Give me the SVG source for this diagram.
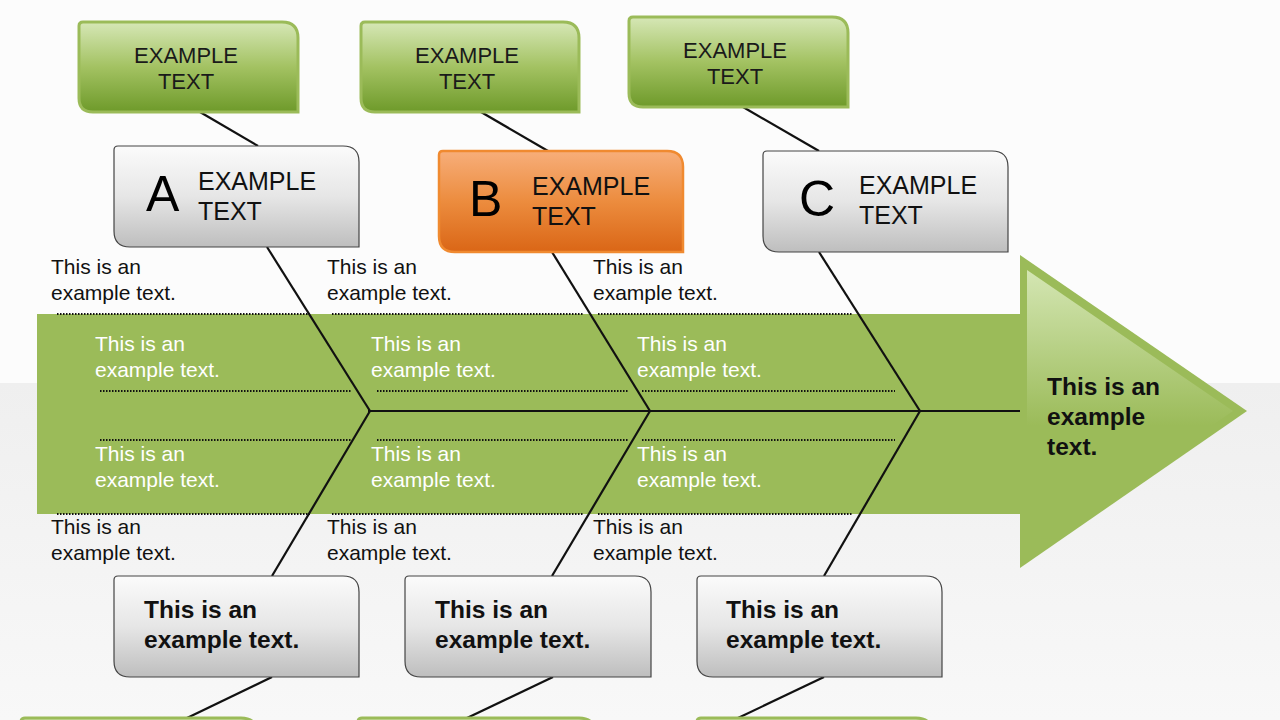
<svg xmlns="http://www.w3.org/2000/svg" width="1280" height="720" viewBox="0 0 1280 720">
<defs>
<linearGradient id="gGreen" x1="0" y1="0" x2="0" y2="1">
<stop offset="0" stop-color="#d6e7b6"/>
<stop offset="0.5" stop-color="#a3c262"/>
<stop offset="1" stop-color="#6e9a2a"/>
</linearGradient>
<linearGradient id="gGray" x1="0" y1="0" x2="0" y2="1">
<stop offset="0" stop-color="#fbfbfb"/>
<stop offset="0.5" stop-color="#e6e6e6"/>
<stop offset="1" stop-color="#bebebe"/>
</linearGradient>
<linearGradient id="gOrange" x1="0" y1="0" x2="0" y2="1">
<stop offset="0" stop-color="#f7ae7a"/>
<stop offset="0.5" stop-color="#ec8c3e"/>
<stop offset="1" stop-color="#da6616"/>
</linearGradient>
<linearGradient id="gArrow" x1="0" y1="0" x2="0" y2="1">
<stop offset="0" stop-color="#d4e6b3"/>
<stop offset="0.55" stop-color="#9bbb59"/>
<stop offset="1" stop-color="#9bbb59"/>
</linearGradient>
<linearGradient id="gBg" x1="0" y1="0" x2="0" y2="1">
<stop offset="0" stop-color="#efefef"/>
<stop offset="1" stop-color="#f8f8f8"/>
</linearGradient>
</defs>
<style>
.gbox{fill:url(#gGreen);stroke:#9bbb59;stroke-width:3}
.graybox{fill:url(#gGray);stroke:#444;stroke-width:1.2}
.orbox{fill:url(#gOrange);stroke:#f08a30;stroke-width:2.5}
.line{stroke:#111;stroke-width:2.2;fill:none}
.dot{stroke:#111;stroke-width:1.8;stroke-dasharray:1.5 1.5;fill:none}
.gt{font-family:"Liberation Sans",Arial,sans-serif;font-size:22px;fill:#1a1a1a;text-anchor:middle}
.hd{font-family:"Liberation Sans",Arial,sans-serif;font-size:25px;fill:#111}
.letter{font-family:"Liberation Sans",Arial,sans-serif;font-size:50px;fill:#000}
.sm{font-family:"Liberation Sans",Arial,sans-serif;font-size:21px;fill:#111}
.wt{font-family:"Liberation Sans",Arial,sans-serif;font-size:21px;fill:#ffffff}
.bd{font-family:"Liberation Sans",Arial,sans-serif;font-size:24.5px;font-weight:bold;fill:#111}
</style>
<rect x="0" y="0" width="1280" height="720" fill="#fcfcfc"/>
<rect x="0" y="383" width="1280" height="337" fill="url(#gBg)"/>

<g id="band">
<rect x="37" y="314" width="983" height="200" fill="#9bbb59"/>
<polygon points="1020,255 1247,411 1020,568" fill="#9bbb59"/>
<polygon points="1027,270 1233,411 1027,553" fill="url(#gArrow)"/>
</g>

<g id="dotted">
<line class="dot" x1="57" y1="314" x2="310" y2="314"/>
<line class="dot" x1="332" y1="314" x2="583" y2="314"/>
<line class="dot" x1="598" y1="314" x2="852" y2="314"/>
<line class="dot" x1="100" y1="391" x2="352" y2="391"/>
<line class="dot" x1="377" y1="391" x2="628" y2="391"/>
<line class="dot" x1="642" y1="391" x2="895" y2="391"/>
<line class="dot" x1="100" y1="440" x2="352" y2="440"/>
<line class="dot" x1="377" y1="440" x2="628" y2="440"/>
<line class="dot" x1="642" y1="440" x2="895" y2="440"/>
<line class="dot" x1="57" y1="514" x2="310" y2="514"/>
<line class="dot" x1="332" y1="514" x2="583" y2="514"/>
<line class="dot" x1="598" y1="514" x2="852" y2="514"/>
</g>

<g id="connectors">
<line class="line" x1="368" y1="411" x2="1020" y2="411"/>
<line class="line" x1="267" y1="247" x2="370" y2="411"/>
<line class="line" x1="370" y1="411" x2="272" y2="576"/>
<line class="line" x1="552" y1="252" x2="650" y2="411"/>
<line class="line" x1="650" y1="411" x2="552" y2="576"/>
<line class="line" x1="819" y1="252" x2="920" y2="411"/>
<line class="line" x1="920" y1="411" x2="824" y2="576"/>
<line class="line" x1="200" y1="112" x2="258" y2="146"/>
<line class="line" x1="481" y1="112" x2="548" y2="151"/>
<line class="line" x1="743" y1="107" x2="819" y2="151"/>
<line class="line" x1="272" y1="677" x2="187" y2="718"/>
<line class="line" x1="553" y1="677" x2="467" y2="718"/>
<line class="line" x1="824" y1="677" x2="738" y2="718"/>
</g>

<g id="top-green-1">
<path class="gbox" d="M83,22 H282 Q298,22 298,38 V112 H93 Q79,112 79,98 V26 Q79,22 83,22 Z"/>
<text class="gt" x="186" y="63">EXAMPLE</text>
<text class="gt" x="186" y="89">TEXT</text>
</g>
<g id="top-green-2">
<path class="gbox" d="M365,22 H563 Q579,22 579,38 V112 H375 Q361,112 361,98 V26 Q361,22 365,22 Z"/>
<text class="gt" x="467" y="63">EXAMPLE</text>
<text class="gt" x="467" y="89">TEXT</text>
</g>
<g id="top-green-3">
<path class="gbox" d="M633,17 H832 Q848,17 848,33 V107 H643 Q629,107 629,93 V21 Q629,17 633,17 Z"/>
<text class="gt" x="735" y="58">EXAMPLE</text>
<text class="gt" x="735" y="84">TEXT</text>
</g>

<g id="cat-A">
<path class="graybox" d="M118,146 H343 Q359,146 359,162 V247 H130 Q114,247 114,231 V150 Q114,146 118,146 Z"/>
<text class="letter" x="146" y="211">A</text>
<text class="hd" x="198" y="190">EXAMPLE</text>
<text class="hd" x="198" y="220">TEXT</text>
</g>
<g id="cat-B">
<path class="orbox" d="M443,151 H667 Q683,151 683,167 V252 H455 Q439,252 439,236 V155 Q439,151 443,151 Z"/>
<text class="letter" x="469" y="216">B</text>
<text class="hd" x="532" y="195">EXAMPLE</text>
<text class="hd" x="532" y="225">TEXT</text>
</g>
<g id="cat-C">
<path class="graybox" d="M767,151 H992 Q1008,151 1008,167 V252 H779 Q763,252 763,236 V155 Q763,151 767,151 Z"/>
<text class="letter" x="799" y="216">C</text>
<text class="hd" x="859" y="194">EXAMPLE</text>
<text class="hd" x="859" y="224">TEXT</text>
</g>

<g id="labels-top">
<text class="sm" x="51" y="274">This is an</text>
<text class="sm" x="51" y="300">example text.</text>
<text class="sm" x="327" y="274">This is an</text>
<text class="sm" x="327" y="300">example text.</text>
<text class="sm" x="593" y="274">This is an</text>
<text class="sm" x="593" y="300">example text.</text>
</g>
<g id="labels-band">
<text class="wt" x="95" y="351">This is an</text>
<text class="wt" x="95" y="377">example text.</text>
<text class="wt" x="371" y="351">This is an</text>
<text class="wt" x="371" y="377">example text.</text>
<text class="wt" x="637" y="351">This is an</text>
<text class="wt" x="637" y="377">example text.</text>
<text class="wt" x="95" y="461">This is an</text>
<text class="wt" x="95" y="487">example text.</text>
<text class="wt" x="371" y="461">This is an</text>
<text class="wt" x="371" y="487">example text.</text>
<text class="wt" x="637" y="461">This is an</text>
<text class="wt" x="637" y="487">example text.</text>
</g>
<g id="labels-bottom">
<text class="sm" x="51" y="534">This is an</text>
<text class="sm" x="51" y="560">example text.</text>
<text class="sm" x="327" y="534">This is an</text>
<text class="sm" x="327" y="560">example text.</text>
<text class="sm" x="593" y="534">This is an</text>
<text class="sm" x="593" y="560">example text.</text>
</g>

<g id="effect">
<text class="bd" x="1047" y="395">This is an</text>
<text class="bd" x="1047" y="425">example</text>
<text class="bd" x="1047" y="455">text.</text>
</g>

<g id="bottom-1">
<path class="graybox" d="M118,576 H343 Q359,576 359,592 V677 H130 Q114,677 114,661 V580 Q114,576 118,576 Z"/>
<text class="bd" x="144" y="618">This is an</text>
<text class="bd" x="144" y="648">example text.</text>
</g>
<g id="bottom-2">
<path class="graybox" d="M409,576 H635 Q651,576 651,592 V677 H421 Q405,677 405,661 V580 Q405,576 409,576 Z"/>
<text class="bd" x="435" y="618">This is an</text>
<text class="bd" x="435" y="648">example text.</text>
</g>
<g id="bottom-3">
<path class="graybox" d="M701,576 H926 Q942,576 942,592 V677 H713 Q697,677 697,661 V580 Q697,576 701,576 Z"/>
<text class="bd" x="726" y="618">This is an</text>
<text class="bd" x="726" y="648">example text.</text>
</g>

<g id="bottom-green-1">
<path class="gbox" d="M25,718 H241 Q257,718 257,734 V760 H21 V722 Q21,718 25,718 Z"/>
</g>
<g id="bottom-green-2">
<path class="gbox" d="M362,718 H579 Q595,718 595,734 V760 H358 V722 Q358,718 362,718 Z"/>
</g>
<g id="bottom-green-3">
<path class="gbox" d="M701,718 H916 Q932,718 932,734 V760 H697 V722 Q697,718 701,718 Z"/>
</g>
</svg>
